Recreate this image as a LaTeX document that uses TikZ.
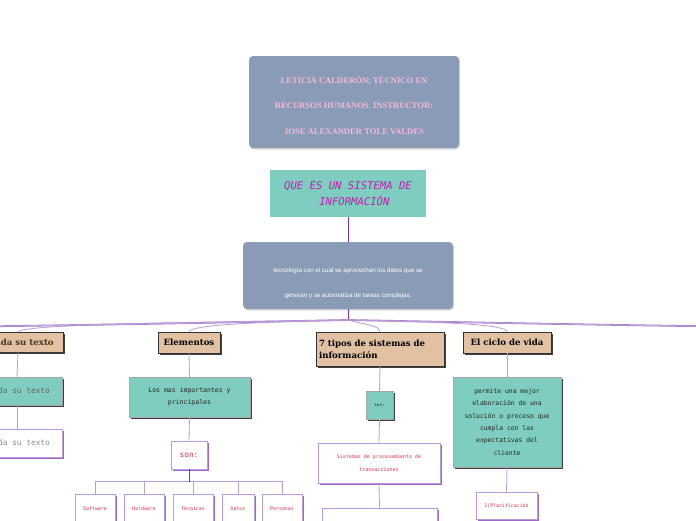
\documentclass[tikz,border=0pt]{standalone}
\usepackage{fontspec}
\setmainfont{Liberation Serif}
\newfontfamily\monof{DejaVu Sans Mono}
\newfontfamily\sansf{Liberation Sans}
\newfontfamily\slabf{DejaVu Serif}
\usetikzlibrary{shadows}
\definecolor{slate}{HTML}{8A9CB5}
\definecolor{tealc}{HTML}{7ECDC0}
\definecolor{tanc}{HTML}{E2C0A2}
\definecolor{pinkt}{HTML}{F2B8E2}
\definecolor{magt}{HTML}{C41EB4}
\definecolor{redt}{HTML}{E0304C}
\definecolor{darkpur}{HTML}{7534A8}
\definecolor{lightpur}{HTML}{BC9ADA}
\definecolor{shpur}{HTML}{9A6CC8}
\tikzset{
  slatebox/.style={fill=slate, rounded corners=4pt, inner sep=0pt, align=center,
     drop shadow={shadow xshift=1pt, shadow yshift=-1.5pt, fill=black!25, opacity=0.6}},
  queboxs/.style={fill=tealc, inner sep=0pt, align=center},
  tanbox/.style={fill=tanc, draw=black!80, line width=0.6pt, inner sep=0pt, align=center,
     drop shadow={shadow xshift=2pt, shadow yshift=-2pt, fill=black!75, opacity=1}},
  tealbox/.style={fill=tealc, draw=black!35, line width=0.4pt, inner sep=0pt, align=center,
     drop shadow={shadow xshift=2pt, shadow yshift=-2pt, fill=black!75, opacity=1}},
  whitebox/.style={fill=white, draw=lightpur, line width=0.7pt, inner sep=0pt, align=center,
     drop shadow={shadow xshift=2pt, shadow yshift=-2pt, fill=shpur, opacity=1}},
  conn/.style={draw=lightpur, line width=0.8pt},
  darkconn/.style={draw=darkpur, line width=1pt},
  thickconn/.style={draw=darkpur!65, line width=1.8pt},
  thinbranch/.style={draw=lightpur, line width=0.8pt},
}
\begin{document}
\begin{tikzpicture}[x=1pt,y=-1pt]
\useasboundingbox (0,0) rectangle (696,520);
\clip (0,0) rectangle (696,520);

% top boxes
\node[slatebox, minimum width=210pt, minimum height=92pt] (title) at (354,102) {};
\node[font={\bfseries\fontsize{8.6}{25.5}\selectfont}, text=pinkt, align=center, inner sep=0pt]
  (titletext) at (354,105)
  {LETICIA CALDERÓN; TÉCNICO EN\\RECURSOS HUMANOS. INSTRUCTOR:\\JOSE ALEXANDER TOLE VALDES};
\node[queboxs, minimum width=156pt, minimum height=47pt,
  font={\monof\itshape\fontsize{10.6}{16}\selectfont}, text=magt] (que) at (348,193.5)
  {QUE ES UN SISTEMA DE\\\ \ INFORMACIÓN};
\node[slatebox, minimum width=210pt, minimum height=67pt] (desc) at (348,275.5) {};
\node[font={\sansf\fontsize{6.2}{25}\selectfont}, text=white, align=center, inner sep=0pt]
  (desctext) at (348,283)
  {tecnología con el cual se aprovechan los datos que se\\generan  y se automatiza de tareas complejas.};

% level 1
\node[tanbox, minimum width=90pt, minimum height=20pt,
  font={\slabf\bfseries\fontsize{8.6}{10}\selectfont}, text=black!60!brown] (left) at (18,342)
  {Añada su texto};
\node[tanbox, minimum width=62pt, minimum height=21pt,
  font={\slabf\bfseries\fontsize{8.6}{10}\selectfont}] (elem) at (189,342.5)
  {Elementos};
\node[tanbox, minimum width=128pt, minimum height=34pt, align=left, text width=122pt,
  font={\slabf\bfseries\fontsize{8.6}{12}\selectfont}] (tipos) at (380,349)
  {7 tipos de sistemas de\\información};
\node[tanbox, minimum width=88pt, minimum height=21pt,
  font={\slabf\bfseries\fontsize{8.6}{10}\selectfont}] (ciclo) at (507,342.5)
  {El ciclo de vida};

% left column
\node[tealbox, minimum width=90pt, minimum height=28pt,
  font={\monof\fontsize{7.8}{10}\selectfont}, text=black!60] (lteal) at (17,391)
  {Añada su texto};
\node[whitebox, minimum width=90pt, minimum height=28pt,
  font={\monof\fontsize{7.8}{10}\selectfont}, text=black!45] (lwhite) at (17,443)
  {Añada su texto};

% elementos column
\node[tealbox, minimum width=121pt, minimum height=40pt,
  font={\monof\fontsize{6.5}{11.7}\selectfont}, text=black!85] (eteal) at (189.5,397)
  {Los mas importantes y\\principales};
\node[whitebox, minimum width=36pt, minimum height=28pt,
  font={\monof\fontsize{7.8}{10}\selectfont}, text=redt] (eson) at (189,455)
  {son:};
\foreach \nm/\cx/\w/\t in {soft/95/40/Software, hard/144/40/Hardware, tec/193/40/Técnicas, dat/238/32/Datos, pers/282/40/Personas}{
  \node[whitebox, minimum width=\w pt, minimum height=30pt,
    font={\monof\fontsize{4.9}{8}\selectfont}, text=redt] (\nm) at (\cx,509) {\t};
}

% 7 tipos column
\node[tealbox, minimum width=27pt, minimum height=28pt,
  font={\monof\fontsize{4.2}{6}\selectfont}, text=black!85] (tson) at (379.5,405)
  {son:};
\node[whitebox, minimum width=122pt, minimum height=40pt,
  font={\monof\fontsize{5}{13}\selectfont}, text=redt] (sist) at (379,463)
  {Sistemas de procesamiento de\\transacciones};
\node[whitebox, minimum width=115pt, minimum height=32pt] (next) at (379.5,524) {};

% ciclo column
\node[tealbox, minimum width=108pt, minimum height=90pt,
  font={\monof\fontsize{6.4}{12.4}\selectfont}, text=black!85] (cteal) at (507,422)
  {permite una mejor\\elaboración de una\\solución o proceso que\\cumpla con las\\expectativas del\\cliente};
\node[whitebox, minimum width=61pt, minimum height=27pt,
  font={\monof\fontsize{4.9}{8}\selectfont}, text=redt] (plan) at (506.5,505.5)
  {1)Planificación};

% connectors
\draw[darkconn] (que.south) -- (desc.north);
\coordinate (hub) at (348,320);
\coordinate (leftend) at (-60,327);
\coordinate (rightend) at (760,327);
\draw[darkconn] (desc.south) -- (hub);
\draw[thickconn] (hub) .. controls (250,322) and (100,325) .. (leftend);
\draw[thickconn] (hub) .. controls (450,322) and (600,325) .. (rightend);
\draw[draw=white, line width=0.5pt, opacity=0.5] (hub) .. controls (250,322) and (100,325) .. (leftend);
\draw[draw=white, line width=0.5pt, opacity=0.5] (hub) .. controls (450,322) and (600,325) .. (rightend);
\draw[thinbranch] (hub) .. controls (200,322) and (25,324) .. (left.north);
\draw[thinbranch] (hub) .. controls (270,322) and (192,324) .. (elem.north);
\draw[thinbranch] (hub) .. controls (360,324) and (380,325) .. (tipos.north);
\draw[thinbranch] (hub) .. controls (440,322) and (506,324) .. (ciclo.north);

\draw[conn] (left.south) -- (lteal.north);
\draw[conn] (lteal.south) -- (lwhite.north);
\draw[conn] (elem.south) -- (eteal.north);
\draw[conn] (eteal.south) -- (eson.north);
\draw[darkconn] (eson.south) -- ++(0,12.5) coordinate (bus);
\foreach \nm in {soft,hard,tec,dat,pers}{
  \draw[conn] (bus) -| (\nm.north);
}
\draw[darkconn] (eson.south) -- (bus);
\draw[conn] (tipos.south) -- (tson.north);
\draw[conn] (tson.south) -- (sist.north);
\draw[conn] (sist.south) -- (next.north);
\draw[conn] (ciclo.south) -- (cteal.north);
\draw[conn] (cteal.south) -- (plan.north);
\end{tikzpicture}
\end{document}
